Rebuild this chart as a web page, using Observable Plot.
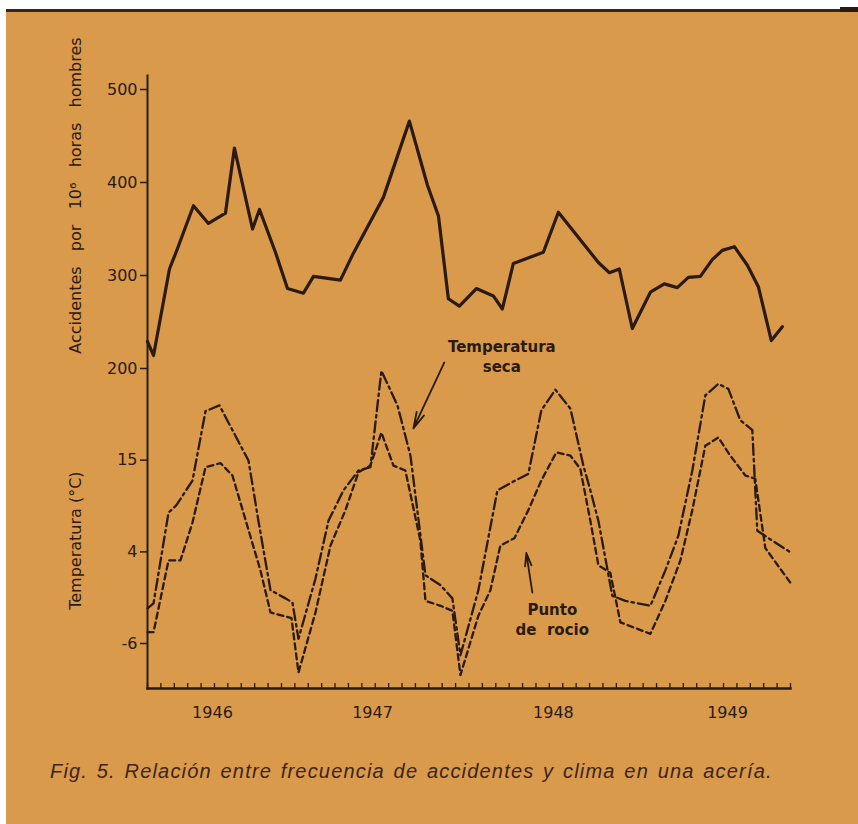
<!DOCTYPE html>
<html><head><meta charset="utf-8">
<script src="https://cdn.jsdelivr.net/npm/d3@7"></script>
<script src="https://cdn.jsdelivr.net/npm/@observablehq/plot@0.6"></script>
<style>
html,body{margin:0;padding:0;background:#fff;}
#page{position:relative;width:858px;height:824px;overflow:hidden;background:#fff;}
#paper{position:absolute;left:6px;top:9px;right:0;bottom:0;background:#d99a4c;border-top:3px solid #3a2418;}
#corner{position:absolute;right:0;top:7px;width:18px;height:5px;background:#2a1a10;}
#page svg{position:absolute;left:0;top:0;background:transparent !important;}
#caption{position:absolute;left:50px;top:760px;white-space:nowrap;font-family:"Liberation Sans",sans-serif;font-style:italic;font-size:20px;letter-spacing:1.18px;word-spacing:2px;color:#3e2414;}
</style>
</head><body>
<div id="page"><div id="paper"></div><div id="corner"></div><div id="caption">Fig. 5. Relación entre frecuencia de accidentes y clima en una acería.</div></div>
<script>
// Accidentes por 10^6 horas hombres (x = months from start of axis)
const accMonth = [0.0,0.45,1.64,2.24,3.43,4.55,5.82,6.49,7.84,8.36,9.55,10.45,11.64,12.39,14.40,15.37,17.61,19.55,20.90,21.72,22.46,23.28,24.55,25.82,26.49,27.31,29.55,30.67,33.66,34.48,35.22,36.19,37.54,38.58,39.55,40.37,41.27,42.16,42.91,43.81,44.78,45.60,46.57,47.39];
const accValue = [229,214,307,329,375,356,367,437,350,371,325,286,281,299,295,324,384,466,397,364,275,267,286,278,264,313,325,368,314,303,307,243,282,291,287,298,299,317,327,331,311,288,230,245];

// Temperatura seca (°C)
const secaMonth = [0,0.45,1.57,2.16,3.36,4.33,5.37,7.54,8.28,9.18,10.30,10.82,11.27,12.54,13.51,14.63,15.75,16.64,17.46,18.66,19.63,20.75,21.87,22.76,23.36,24.70,26.12,27.46,28.43,29.40,30.45,31.57,32.54,33.06,33.66,34.70,35.67,37.54,38.66,39.63,40.67,41.64,42.61,43.36,44.25,45.15,45.52,46.64,47.99];
const secaTemp = [-2.4,-1.8,9.2,10.1,13.1,21.5,22.2,15.5,8.2,-0.2,-1.2,-1.7,-6.1,1.2,8.2,11.9,14.3,14.7,26.4,22.2,16.1,1.6,0.4,-1.2,-8.1,-0.2,11.9,13.1,13.9,21.6,24.1,21.8,14.9,11.9,8.2,-0.9,-1.5,-2.1,2.2,6.4,14.3,23.4,24.8,24.2,20.4,19.2,7.0,5.8,4.4];

// Punto de rocío (°C)
const rocioMonth = [0,0.45,1.57,2.46,3.36,4.33,5.45,6.34,8.43,9.18,10.30,10.75,11.27,12.54,13.66,14.78,15.75,16.64,17.46,18.36,19.25,20.37,20.75,21.87,22.76,23.36,24.70,25.60,26.34,27.39,28.43,29.40,30.52,31.57,32.31,33.06,33.66,34.55,35.30,37.54,38.66,39.78,40.67,41.64,42.61,43.51,44.63,45.37,46.12,47.99];
const rocioTemp = [-5.3,-5.3,3.4,3.4,8.0,14.7,15.2,13.7,2.2,-2.9,-3.4,-3.6,-10.2,-2.9,5.2,9.5,14.1,14.9,18.9,14.9,14.3,5.8,-1.5,-2.1,-2.7,-10.5,-3.3,-0.2,5.2,6.1,9.5,13.1,16.5,16.1,14.5,8.2,2.8,1.9,-4.1,-5.5,-1.5,3.4,9.5,17.3,18.3,16.1,13.7,13.3,4.9,0.7];

const accTicks = [200,300,400,500];
const tempTicks = [-6.67,4.44,15.56];
const tempTickLabels = ["-6","4","15"];
const yearTicks = [4.85,16.8,30.3,43.3];
const yearLabels = ["1946","1947","1948","1949"];
const monthTicks = d3.range(0,49);

const annotLabels = ["Temperatura\nseca","Punto\nde  rocio"];
const annotMonth = [26.45,30.22];
const annotTemp = [28.24,-3.64];
const arrowFromMonth = [22.16,28.73], arrowFromTemp = [27.4,-0.5];
const arrowToMonth = [19.85,28.28], arrowToTemp = [19.4,4.3];

const ink = "#2a1a10";
const font = "DejaVu Sans";
const common = {
  width:858, height:824, marginLeft:147, marginRight:68, marginTop:75, marginBottom:136,
  style:{background:"transparent", color:ink, fontFamily:font, fontSize:"16px", overflow:"visible"}
};

const acc = accMonth.map((m,i)=>({m, v:accValue[i]}));
const seca = secaMonth.map((m,i)=>({m, t:secaTemp[i]}));
const rocio = rocioMonth.map((m,i)=>({m, t:rocioTemp[i]}));
const annots = annotLabels.map((label,i)=>({label, m:annotMonth[i], t:annotTemp[i]}));
const arrows = arrowFromMonth.map((m,i)=>({m1:m, t1:arrowFromTemp[i], m2:arrowToMonth[i], t2:arrowToTemp[i]}));

const plot1 = Plot.plot({...common,
  x:{domain:[0,48]},
  y:{domain:[200,500], range:[368,89]},
  marks:[
    Plot.frame({anchor:"left", stroke:ink, strokeWidth:2}),
    Plot.frame({anchor:"bottom", stroke:ink, strokeWidth:2.5}),
    Plot.tickX(monthTicks,{x:d=>d, insetTop:608, stroke:ink, strokeWidth:1.3}),
    Plot.axisX({ticks:yearTicks, tickFormat:d=>yearLabels[yearTicks.indexOf(d)], tickSize:0, tickPadding:18, fontSize:16, label:null}),
    Plot.axisY({ticks:accTicks, tickSize:7, tickPadding:3, fontSize:16, label:null, strokeWidth:1.5}),
    Plot.line(acc,{x:"m", y:"v", stroke:ink, strokeWidth:3.2}),
    Plot.text(["Accidentes   por   10⁶   horas   hombres"],{x:()=>-5.37, y:()=>386, text:d=>d, rotate:-90, fontSize:16, fill:ink})
  ]
});

const plot2 = Plot.plot({...common,
  x:{domain:[0,48], axis:null},
  y:{domain:[-6.67,26.67], range:[643,368]},
  marks:[
    Plot.axisY({ticks:tempTicks, tickFormat:d=>tempTickLabels[tempTicks.indexOf(d)], tickSize:7, tickPadding:3, fontSize:16, label:null, strokeWidth:1.5}),
    Plot.line(seca,{x:"m", y:"t", stroke:ink, strokeWidth:2.3, strokeDasharray:"11,4,2.5,4"}),
    Plot.line(rocio,{x:"m", y:"t", stroke:ink, strokeWidth:2.3, strokeDasharray:"6,4"}),
    Plot.text(["Temperatura (°C)"],{x:()=>-5.37, y:()=>5.8, text:d=>d, rotate:-90, fontSize:16, fill:ink}),
    Plot.text(annots,{x:"m", y:"t", text:"label", fontSize:15, fontWeight:"bold", lineHeight:1.35, fill:ink}),
    Plot.arrow(arrows,{x1:"m1", y1:"t1", x2:"m2", y2:"t2", stroke:ink, strokeWidth:1.8, headLength:14, headAngle:28})
  ]
});

document.getElementById("page").append(plot1, plot2);
</script>
</body></html>
